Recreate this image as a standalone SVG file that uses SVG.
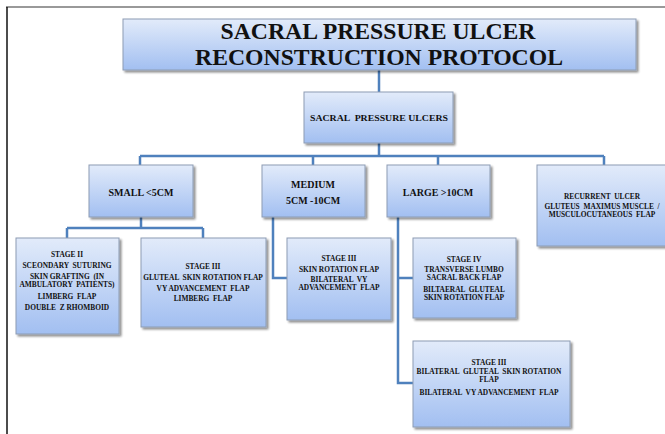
<svg xmlns="http://www.w3.org/2000/svg" width="665" height="434" viewBox="0 0 665 434">
<defs>
<linearGradient id="g" x1="0" y1="0" x2="0" y2="1">
<stop offset="0" stop-color="#e2ebfa"/>
<stop offset="1" stop-color="#a2bff1"/>
</linearGradient>
<filter id="sh" x="-10%" y="-10%" width="130%" height="140%">
<feGaussianBlur in="SourceAlpha" stdDeviation="1.2"/>
<feOffset dx="1.5" dy="2" result="o"/>
<feComponentTransfer><feFuncA type="linear" slope="0.45"/></feComponentTransfer>
<feMerge><feMergeNode/><feMergeNode in="SourceGraphic"/></feMerge>
</filter>
</defs>
<style>
.box{fill:url(#g);stroke:#8d9cb3;stroke-width:1;filter:url(#sh)}
.c{fill:none;stroke:#4f81bd;stroke-width:2.5}
text{font-family:"Liberation Serif","Times New Roman",serif;font-weight:bold;fill:#111;text-anchor:middle}
.t{font-size:24px}
.m{font-size:10px}
.s{font-size:7.4px}
</style>
<rect width="665" height="434" fill="#fff"/>
<line x1="6" y1="7" x2="665" y2="7" stroke="#777" stroke-width="1.5"/>
<line x1="7" y1="7" x2="7" y2="434" stroke="#111" stroke-width="1.5"/>

<g id="connectors">
<path class="c" d="M379 70V92M379 143V156M140 156H604M140 156V165M313 156V165M438 156V165M604 156V165"/>
<path class="c" d="M141 217V228M67 228H203M67 228V238M203 228V238"/>
<path class="c" d="M273 217V278H287"/>
<path class="c" d="M398 217V383H413M398 278H413"/>
</g>

<g id="title">
<rect class="box" x="123" y="19" width="513" height="51"/>
<text class="t" x="378" y="38.5" textLength="315" lengthAdjust="spacingAndGlyphs">SACRAL PRESSURE ULCER</text>
<text class="t" x="379" y="65" textLength="368" lengthAdjust="spacingAndGlyphs">RECONSTRUCTION PROTOCOL</text>
</g>

<g id="sacral">
<rect class="box" x="304" y="92" width="149" height="51"/>
<text style="font-size:8.5px" x="379" y="121" textLength="138" lengthAdjust="spacingAndGlyphs" xml:space="preserve">SACRAL  PRESSURE ULCERS</text>
</g>

<g id="small">
<rect class="box" x="89" y="165" width="104" height="52"/>
<text class="m" x="141" y="195.5">SMALL &lt;5CM</text>
</g>

<g id="medium">
<rect class="box" x="262" y="165" width="103" height="52"/>
<text class="m" x="313" y="187.5">MEDIUM</text>
<text class="m" x="313" y="203.5">5CM -10CM</text>
</g>

<g id="large">
<rect class="box" x="387" y="165" width="103" height="52"/>
<text class="m" x="438" y="195.5">LARGE &gt;10CM</text>
</g>

<g id="recurrent">
<rect class="box" x="537" y="165" width="140" height="81"/>
<text class="s" x="602" y="198.5" xml:space="preserve">RECURRENT  ULCER</text>
<text class="s" x="602" y="208.5" xml:space="preserve">GLUTEUS  MAXIMUS MUSCLE  /</text>
<text class="s" x="602" y="216.8" xml:space="preserve">MUSCULOCUTANEOUS  FLAP</text>
</g>

<g id="stage2">
<rect class="box" x="16" y="238" width="103" height="96"/>
<text class="s" x="67" y="257">STAGE II</text>
<text class="s" x="67" y="268" xml:space="preserve">SCEONDARY  SUTURING</text>
<text class="s" x="67" y="279" xml:space="preserve">SKIN GRAFTING  (IN</text>
<text class="s" x="67" y="287.3" xml:space="preserve">AMBULATORY  PATIENTS)</text>
<text class="s" x="67" y="299" xml:space="preserve">LIMBERG  FLAP</text>
<text class="s" x="67" y="309.5" xml:space="preserve">DOUBLE  Z RHOMBOID</text>
</g>

<g id="stage3-small">
<rect class="box" x="141" y="238" width="125" height="89"/>
<text class="s" x="203" y="269">STAGE III</text>
<text class="s" x="203" y="280" xml:space="preserve">GLUTEAL  SKIN ROTATION FLAP</text>
<text class="s" x="203" y="290.5" xml:space="preserve">VY ADVANCEMENT  FLAP</text>
<text class="s" x="203" y="301" xml:space="preserve">LIMBERG  FLAP</text>
</g>

<g id="stage3-medium">
<rect class="box" x="287" y="238" width="104" height="82"/>
<text class="s" x="339" y="260.5">STAGE III</text>
<text class="s" x="339" y="271.5">SKIN ROTATION FLAP</text>
<text class="s" x="339" y="281.5" xml:space="preserve">BILATERAL  VY</text>
<text class="s" x="339" y="289.8" xml:space="preserve">ADVANCEMENT  FLAP</text>
</g>

<g id="stage4">
<rect class="box" x="413" y="238" width="103" height="80"/>
<text class="s" x="464" y="261.5">STAGE IV</text>
<text class="s" x="464" y="271.5">TRANSVERSE LUMBO</text>
<text class="s" x="464" y="279.8">SACRAL BACK FLAP</text>
<text class="s" x="464" y="291.5" xml:space="preserve">BILTAERAL  GLUTEAL</text>
<text class="s" x="464" y="299.8">SKIN ROTATION FLAP</text>
</g>

<g id="stage3-large">
<rect class="box" x="413" y="341" width="157" height="86"/>
<text class="s" x="489" y="364.5">STAGE III</text>
<text class="s" x="489" y="374" xml:space="preserve">BILATERAL  GLUTEAL  SKIN ROTATION</text>
<text class="s" x="489" y="382.3">FLAP</text>
<text class="s" x="489" y="395" xml:space="preserve">BILATERAL  VY ADVANCEMENT  FLAP</text>
</g>
</svg>
